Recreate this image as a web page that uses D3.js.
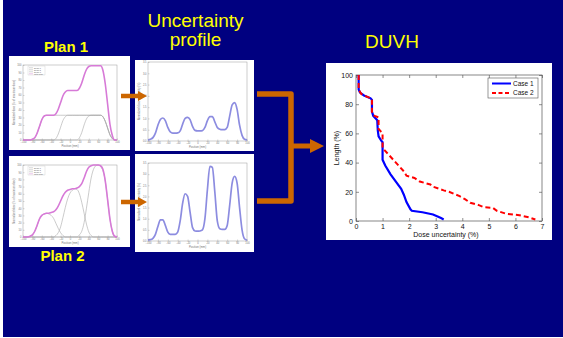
<!DOCTYPE html>
<html>
<head>
<meta charset="utf-8">
<script src="https://cdn.jsdelivr.net/npm/d3@7"></script>
<style>
  html, body { margin: 0; padding: 0; background: #fff; }
  svg { display: block; }
</style>
</head>
<body>
<div id="chart-container"></div>
<script>
// Slide size
const W = 563
const H = 338

// Positions along the beam (mm), shared by the small profile plots
const posMm = d3.range(-100, 101, 5)

// Plan 1: dose profiles (% of max)
const plan1Beam1 = [0,0,0,0,1,3,9,18,27,32,33,33,33,33,33,33,33,33,33,33,33,33,33,33,33,33,33,33,33,33,33,33,33,33,31,25,16,7,2,0,0]
const plan1Beam2 = [0,0,0,0,0,0,0,0,0,0,0,0,0,0,2,8,17,26,31,33,33,33,33,33,33,33,33,33,33,33,33,33,33,33,31,25,16,7,2,0,0]
const plan1Beam3 = [0,0,0,0,0,0,0,0,0,0,0,0,0,0,0,0,0,0,0,0,0,0,0,0,3,10,20,28,32,33,33,33,33,33,31,25,16,7,2,0,0]
const plan1Total = [0,0,0,0,1,3,9,18,27,32,33,33,33,33,35,41,50,59,64,66,66,66,66,66,69,76,86,94,98,99,99,99,99,99,93,75,48,21,6,0,0]

// Plan 2: dose profiles (% of max)
const plan2Beam1 = [0,0,0,1,3,8,16,25,30,32,33,32,30,26,19,12,6,2,0,0,0,0,0,0,0,0,0,0,0,0,0,0,0,0,0,0,0,0,0,0,0]
const plan2Beam2 = [0,0,0,0,0,0,0,0,0,0,0,0,0,0,2,6,14,27,41,53,61,65,67,66,60,48,33,18,7,2,0,0,0,0,0,0,0,0,0,0,0]
const plan2Beam3 = [0,0,0,0,0,0,0,0,0,0,0,0,0,0,0,0,0,0,0,0,0,0,0,0,3,8,20,40,62,82,94,99,100,98,92,78,52,25,8,1,0]
const plan2Total = [0,0,0,1,3,8,16,25,30,32,33,33,34,35,38,43,50,57,62,65,66,67,67,68,70,74,82,91,97,99,100,100,100,99,94,78,52,25,8,1,0]

// Uncertainty profiles (%)
const uncert1 = [0.05,0.08,0.15,0.35,0.7,0.95,1.02,0.9,0.6,0.4,0.35,0.35,0.36,0.45,0.75,1.0,1.05,0.95,0.65,0.47,0.45,0.45,0.46,0.6,0.9,1.08,1.08,0.85,0.6,0.52,0.5,0.5,0.6,1.1,1.6,1.7,1.4,0.7,0.25,0.08,0.05]
const uncert2 = [0.05,0.06,0.12,0.3,0.65,0.95,0.95,0.7,0.4,0.3,0.3,0.3,0.4,0.9,1.7,2.12,2.0,1.3,0.6,0.45,0.44,0.45,0.5,1.0,2.3,3.35,3.3,2.2,0.9,0.55,0.52,0.52,0.7,1.6,2.6,2.9,2.6,1.5,0.5,0.1,0.04]

// DUVH curves: [dose uncertainty %, length %]
const case1 = [[0.1,100],[0.1,90],[0.15,88],[0.3,86],[0.55,84],[0.6,83],[0.6,75],[0.65,72],[0.75,70],[0.8,69],[0.82,62],[0.85,58],[0.95,55],[1.0,54],[1.0,42],[1.1,38],[1.3,32],[1.5,27],[1.7,22],[1.8,18],[1.9,13],[2.05,8],[2.1,7],[2.5,6],[2.9,4.5],[3.2,2],[3.3,1]]
const case2 = [[0.1,100],[0.1,90],[0.2,87],[0.55,84],[0.6,83],[0.6,74],[0.7,72],[0.85,71],[0.85,63],[0.95,61],[1.0,60],[1.0,50],[1.2,46],[1.4,42],[1.6,38],[1.8,34],[1.9,31],[2.2,29.5],[2.4,27],[2.8,25],[2.9,23.5],[3.3,21],[3.5,20],[3.9,17],[4.1,15],[4.3,12.5],[4.6,11],[4.8,9.5],[5.15,9],[5.3,7],[5.65,5],[6.15,4],[6.5,2.5],[6.75,1]]
const caseNames = ['Case 1', 'Case 2']

const duvhXTicks = d3.range(0, 8)
const duvhYTicks = d3.range(0, 101, 20)

const navy = '#000080'
const yellow = '#ffff00'
const orange = '#cc6600'
const font = 'Liberation Sans, Arial, sans-serif'

const svg = d3.select('#chart-container')
  .append('svg')
  .attr('width', W)
  .attr('height', H)

// background (with the thin white frame the slide capture shows)
svg.append('rect').attr('x', 3).attr('y', 0).attr('width', W - 3).attr('height', 337).attr('fill', navy)

// ---------- titles ----------
const title = (txt, x, y, size, weight) => svg.append('text')
  .attr('x', x).attr('y', y)
  .attr('text-anchor', 'middle')
  .attr('font-family', font)
  .attr('font-size', size)
  .attr('font-weight', weight)
  .attr('fill', yellow)
  .text(txt)

title('Uncertainty', 195.5, 27, 19, 'normal')
title('profile', 195.5, 46, 19, 'normal')
title('DUVH', 392, 48, 19, 'normal')
title('Plan 1', 66, 52, 15, 'bold')
title('Plan 2', 62.5, 261, 15, 'bold')

// ---------- small profile plots ----------
function miniPlot(box, plot, yMax, yStep, series, opts) {
  svg.append('rect')
    .attr('x', box[0]).attr('y', box[1])
    .attr('width', box[2]).attr('height', box[3])
    .attr('fill', '#fff')

  const g = svg.append('g')
  const x = d3.scaleLinear().domain([-100, 100]).range([plot[0], plot[2]])
  const y = d3.scaleLinear().domain([0, yMax]).range([plot[3], plot[1]])

  g.append('rect')
    .attr('x', plot[0]).attr('y', plot[1])
    .attr('width', plot[2] - plot[0]).attr('height', plot[3] - plot[1])
    .attr('fill', 'none').attr('stroke', '#9a9a9a').attr('stroke-width', 0.5)

  const xa = g.append('g').attr('transform', `translate(0,${plot[3]})`)
    .call(d3.axisBottom(x).tickValues(d3.range(-100, 101, 20)).tickSize(-1.5).tickPadding(1.5))
  const ya = g.append('g').attr('transform', `translate(${plot[0]},0)`)
    .call(d3.axisLeft(y).tickValues(d3.range(0, yMax + 1e-9, yStep)).tickSize(-1.5).tickPadding(1.5))
  ;[xa, ya].forEach(a => {
    a.select('.domain').remove()
    a.selectAll('line').attr('stroke', '#9a9a9a').attr('stroke-width', 0.4)
    a.selectAll('text').attr('font-size', 2.6).attr('fill', '#777').attr('font-family', font)
  })

  g.append('text')
    .attr('x', (plot[0] + plot[2]) / 2).attr('y', plot[3] + 7)
    .attr('text-anchor', 'middle').attr('font-size', 2.8).attr('fill', '#777')
    .attr('font-family', font).text('Position (mm)')
  g.append('text')
    .attr('transform', `translate(${plot[0] - 8},${(plot[1] + plot[3]) / 2}) rotate(-90)`)
    .attr('text-anchor', 'middle').attr('font-size', 2.6).attr('fill', '#777')
    .attr('font-family', font).text(opts.yLabel)

  const line = d3.line()
    .x((d, i) => x(posMm[i]))
    .y(d => y(d))
    .curve(d3.curveMonotoneX)

  series.forEach(s => {
    g.append('path')
      .datum(s.values)
      .attr('fill', 'none')
      .attr('stroke', s.color)
      .attr('stroke-width', s.width)
      .attr('d', line)
  })

  if (opts.legend) {
    const lx = plot[0] + 5, ly = plot[1] + 1
    g.append('rect').attr('x', lx).attr('y', ly).attr('width', 17).attr('height', 9)
      .attr('fill', '#fff').attr('stroke', '#bbb').attr('stroke-width', 0.3)
    opts.legend.forEach((name, i) => {
      const yy = ly + 1.8 + i * 2
      g.append('line').attr('x1', lx + 1).attr('x2', lx + 5).attr('y1', yy).attr('y2', yy)
        .attr('stroke', i === 3 ? '#d070d0' : '#999').attr('stroke-width', 0.4)
      g.append('text').attr('x', lx + 6).attr('y', yy + 0.7)
        .attr('font-size', 2).attr('fill', '#666').attr('font-family', font).text(name)
    })
  }
}

const beamNames = ['Beam 1', 'Beam 2', 'Beam 3', 'Total dose']
const doseLabel = 'Normalized dose (% of maximum dose)'
const uncLabel = 'Normalized dose uncertainty (%)'
const grey = '#a8a8a8'
const pink = '#d77ad7'
const lilac = '#8c8ce0'

miniPlot([9, 56, 121, 94], [23, 65, 117, 140], 100, 10, [
  { values: plan1Beam1, color: grey, width: 0.6 },
  { values: plan1Beam2, color: grey, width: 0.6 },
  { values: plan1Beam3, color: grey, width: 0.6 },
  { values: plan1Total, color: pink, width: 1.6 }
], { yLabel: doseLabel, legend: beamNames })

miniPlot([9, 156, 121, 91], [23, 165, 117, 237], 100, 10, [
  { values: plan2Beam1, color: grey, width: 0.6 },
  { values: plan2Beam2, color: grey, width: 0.6 },
  { values: plan2Beam3, color: grey, width: 0.6 },
  { values: plan2Total, color: pink, width: 1.6 }
], { yLabel: doseLabel, legend: beamNames })

miniPlot([135, 60, 119, 91], [148, 62, 247, 141], 3.5, 0.5, [
  { values: uncert1, color: lilac, width: 1.7 }
], { yLabel: uncLabel })

miniPlot([135, 154, 119, 98], [148, 163, 247, 241], 3.5, 0.5, [
  { values: uncert2, color: lilac, width: 1.7 }
], { yLabel: uncLabel })

// ---------- arrows ----------
function arrow(x0, x1, yc, shaft, headLen, headH) {
  const xh = x1 - headLen
  const pts = [
    [x0, yc - shaft / 2], [xh, yc - shaft / 2], [xh, yc - headH / 2], [x1, yc],
    [xh, yc + headH / 2], [xh, yc + shaft / 2], [x0, yc + shaft / 2]
  ]
  svg.append('path').attr('d', d3.line()(pts) + 'Z').attr('fill', orange)
}
arrow(121, 147, 96, 4.5, 9, 10)
arrow(121, 147, 202, 4.5, 9, 10)

// bracket joining the two uncertainty profiles
svg.append('path')
  .attr('d', 'M257,94 H291 V201 H257')
  .attr('fill', 'none').attr('stroke', orange).attr('stroke-width', 5.5)
  .attr('stroke-linejoin', 'round')
arrow(291, 324, 146, 5, 14, 14)

// ---------- DUVH chart ----------
svg.append('rect').attr('x', 326).attr('y', 63).attr('width', 226).attr('height', 177).attr('fill', '#fff')

const m = { left: 356, right: 542, top: 75, bottom: 221 }
const xD = d3.scaleLinear().domain([0, 7]).range([m.left, m.right])
const yD = d3.scaleLinear().domain([0, 100]).range([m.bottom, m.top])

const dg = svg.append('g')
const styleAxis = (a, labels) => {
  a.select('.domain').remove()
  a.selectAll('line').attr('stroke', '#444').attr('stroke-width', 0.6)
  a.selectAll('text').attr('font-size', 7).attr('font-family', font).attr('fill', '#111')
  if (!labels) a.selectAll('text').remove()
}
styleAxis(dg.append('g').attr('transform', `translate(0,${m.bottom})`)
  .call(d3.axisBottom(xD).tickValues(duvhXTicks).tickFormat(d3.format('d')).tickSize(-3).tickPadding(3)), true)
styleAxis(dg.append('g').attr('transform', `translate(0,${m.top})`)
  .call(d3.axisTop(xD).tickValues(duvhXTicks).tickSize(-3)), false)
styleAxis(dg.append('g').attr('transform', `translate(${m.left},0)`)
  .call(d3.axisLeft(yD).tickValues(duvhYTicks).tickFormat(d3.format('d')).tickSize(-3).tickPadding(3)), true)
styleAxis(dg.append('g').attr('transform', `translate(${m.right},0)`)
  .call(d3.axisRight(yD).tickValues(duvhYTicks).tickSize(-3)), false)

dg.append('rect')
  .attr('x', m.left).attr('y', m.top)
  .attr('width', m.right - m.left).attr('height', m.bottom - m.top)
  .attr('fill', 'none').attr('stroke', '#555').attr('stroke-width', 0.7)

const duvhLine = d3.line().x(d => xD(d[0])).y(d => yD(d[1]))

// blue first, red dashes on top (they overlap at high length values)
dg.append('path').datum(case1)
  .attr('fill', 'none').attr('stroke', '#0000ff').attr('stroke-width', 2.2)
  .attr('d', duvhLine)
dg.append('path').datum(case2)
  .attr('fill', 'none').attr('stroke', '#ff0000').attr('stroke-width', 2)
  .attr('stroke-dasharray', '5,3').attr('d', duvhLine)

dg.append('text')
  .attr('x', (m.left + m.right) / 2 - 3).attr('y', 237)
  .attr('text-anchor', 'middle').attr('font-size', 7).attr('font-family', font)
  .attr('fill', '#111').text('Dose uncertainty (%)')
dg.append('text')
  .attr('transform', `translate(339,${(m.top + m.bottom) / 2}) rotate(-90)`)
  .attr('text-anchor', 'middle').attr('font-size', 7).attr('font-family', font)
  .attr('fill', '#111').text('Length (%)')

// legend
const lg = dg.append('g').attr('transform', 'translate(488,78)')
lg.append('rect').attr('width', 50).attr('height', 20)
  .attr('fill', '#fff').attr('stroke', '#555').attr('stroke-width', 0.6)
caseNames.forEach((name, i) => {
  const yy = 5.5 + i * 9.5
  lg.append('line').attr('x1', 4).attr('x2', 23).attr('y1', yy).attr('y2', yy)
    .attr('stroke', i === 0 ? '#0000ff' : '#ff0000').attr('stroke-width', 2)
    .attr('stroke-dasharray', i === 0 ? null : '4,2.5')
  lg.append('text').attr('x', 25).attr('y', yy + 2.3)
    .attr('font-size', 6.5).attr('font-family', font).attr('fill', '#111').text(name)
})
</script>
</body>
</html>
